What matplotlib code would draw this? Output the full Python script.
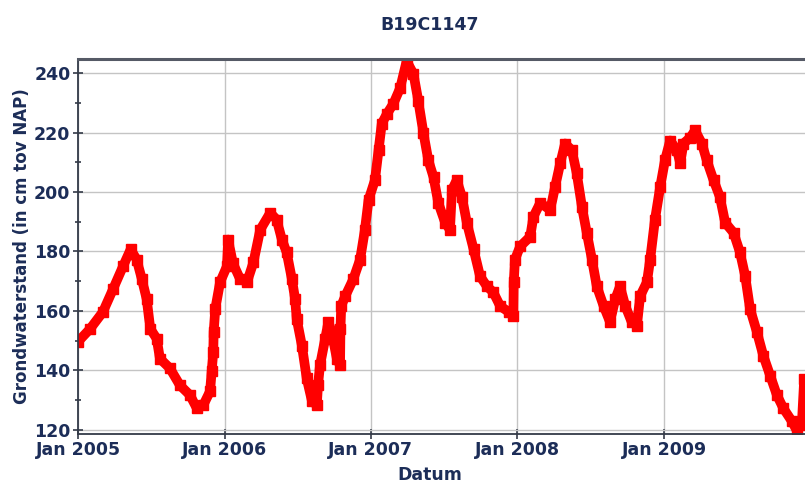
import pandas as pd
import matplotlib.pyplot as plt
import matplotlib.dates as mdates
from matplotlib.ticker import MultipleLocator

# grondwaterstand (cm tov NAP)
dates = ["2005-01-01", "2005-01-31", "2005-03-04", "2005-03-29", "2005-04-23", "2005-05-12",
         "2005-05-27", "2005-06-09", "2005-06-21", "2005-06-30", "2005-07-16", "2005-07-24",
         "2005-08-18", "2005-09-12", "2005-10-07", "2005-10-24", "2005-11-09", "2005-11-26",
         "2005-11-30", "2005-12-04", "2005-12-05", "2005-12-09", "2005-12-21", "2006-01-07",
         "2006-01-10", "2006-01-22", "2006-02-09", "2006-02-26", "2006-03-14", "2006-03-31",
         "2006-04-25", "2006-05-11", "2006-05-24", "2006-06-05", "2006-06-18", "2006-06-26",
         "2006-06-30", "2006-07-13", "2006-07-25", "2006-08-07", "2006-08-19", "2006-08-22",
         "2006-08-27", "2006-09-09", "2006-09-17", "2006-09-25", "2006-10-08", "2006-10-16",
         "2006-10-17", "2006-10-19", "2006-10-29", "2006-11-18", "2006-12-05", "2006-12-17",
         "2006-12-26", "2007-01-11", "2007-01-20", "2007-01-28", "2007-02-10", "2007-02-26",
         "2007-03-15", "2007-03-31", "2007-04-17", "2007-04-29", "2007-05-12", "2007-05-24",
         "2007-06-06", "2007-06-18", "2007-07-05", "2007-07-17", "2007-07-22", "2007-08-03",
         "2007-08-16", "2007-08-28", "2007-09-14", "2007-09-30", "2007-10-17", "2007-11-02",
         "2007-11-19", "2007-12-10", "2007-12-22", "2007-12-23", "2007-12-26", "2008-01-08",
         "2008-02-02", "2008-02-10", "2008-02-27", "2008-03-23", "2008-04-04", "2008-04-17",
         "2008-04-29", "2008-05-16", "2008-05-28", "2008-06-10", "2008-06-22", "2008-07-05",
         "2008-07-17", "2008-08-03", "2008-08-19", "2008-09-01", "2008-09-13", "2008-09-26",
         "2008-10-12", "2008-10-25", "2008-11-02", "2008-11-19", "2008-11-27", "2008-12-09",
         "2008-12-22", "2009-01-03", "2009-01-16", "2009-02-02", "2009-02-10", "2009-02-18",
         "2009-03-07", "2009-03-19", "2009-04-05", "2009-04-17", "2009-05-04", "2009-05-20",
         "2009-06-02", "2009-06-23", "2009-07-09", "2009-07-22", "2009-08-03", "2009-08-20",
         "2009-09-05", "2009-09-22", "2009-10-09", "2009-10-25", "2009-11-15", "2009-11-28",
         "2009-12-10", "2009-12-16"]
levels = [149.7, 154.0, 159.7, 167.3, 175.0, 180.7,
          177.3, 170.7, 164.0, 154.0, 150.7, 144.0,
          140.7, 135.0, 131.7, 127.3, 128.3, 133.0,
          139.7, 146.3, 153.0, 160.7, 169.7, 175.0,
          184.0, 176.0, 170.7, 169.7, 176.3, 187.3,
          193.0, 190.7, 184.0, 179.7, 170.7, 164.0,
          157.3, 148.3, 137.3, 129.7, 128.3, 135.0,
          141.7, 150.7, 156.3, 153.0, 144.0, 141.7,
          154.0, 161.7, 165.0, 170.7, 177.3, 187.3,
          197.3, 204.0, 214.0, 223.0, 226.3, 229.7,
          235.0, 244.0, 239.7, 230.7, 219.7, 210.7,
          205.0, 196.3, 189.7, 187.3, 200.7, 204.0,
          198.3, 189.7, 180.7, 171.7, 168.3, 166.3,
          161.7, 159.7, 158.3, 169.7, 177.3, 181.7,
          185.0, 191.7, 196.3, 194.0, 201.7, 209.7,
          216.3, 214.0, 206.3, 195.0, 186.3, 177.3,
          168.3, 161.7, 156.3, 164.0, 168.3, 161.7,
          156.3, 155.0, 165.0, 169.7, 177.3, 190.7,
          201.7, 210.7, 217.3, 214.0, 209.7, 216.3,
          218.3, 220.7, 216.3, 210.7, 204.0, 198.3,
          189.7, 186.3, 179.7, 171.7, 160.7, 153.0,
          145.0, 138.3, 131.7, 127.3, 123.0, 119.7,
          121.7, 137.0]

year_ticks = ["2005-01-01", "2006-01-01", "2007-01-01", "2008-01-01", "2009-01-01"]

df = pd.DataFrame({"Datum": pd.to_datetime(dates), "stand": levels})

navy = "#1c2d58"
plt.rcParams["font.family"] = ["DejaVu Sans"]
plt.rcParams["font.weight"] = "bold"

fig = plt.figure(figsize=(8.05, 4.84), dpi=100)
ax = fig.add_axes([0.097, 0.1043, 0.903, 0.7737])

ax.plot(df["Datum"], df["stand"], color="#ff0000", lw=7, marker="s", ms=6.5,
        solid_capstyle="round", solid_joinstyle="round")

ax.set_ylim(118.8, 244.7)
ax.set_xlim(pd.Timestamp("2005-01-01"), pd.Timestamp("2009-12-18"))
ax.yaxis.set_major_locator(MultipleLocator(20))
ax.yaxis.set_minor_locator(MultipleLocator(10))
ax.set_xticks(pd.to_datetime(year_ticks))
ax.xaxis.set_major_formatter(mdates.DateFormatter("Jan %Y"))

ax.grid(True, which="major", color="#c4c4c4", lw=1)
ax.set_axisbelow(True)
ax.tick_params(axis="both", which="both", direction="inout", colors="#333a48",
               labelcolor=navy, labelsize=12.5, width=1.2, pad=2)
ax.tick_params(axis="both", which="major", length=7)
ax.tick_params(axis="y", which="minor", length=5)

ax.spines["right"].set_visible(False)
ax.spines["top"].set_color("#555a66")
ax.spines["top"].set_linewidth(2.2)
for s in ["left", "bottom"]:
    ax.spines[s].set_color("#333a48")
    ax.spines[s].set_linewidth(1.3)

ax.set_ylabel("Grondwaterstand (in cm tov NAP)", color=navy, fontsize=12,
              fontweight="bold", labelpad=2)
fig.text(430 / 805, 1 - 475 / 484, "Datum", ha="center", va="center", color=navy,
         fontsize=12.5, fontweight="bold")
fig.text(430 / 805, 1 - 25 / 484, "B19C1147", ha="center", va="center", color=navy,
         fontsize=12.5, fontweight="bold")

fig.savefig("out.png", dpi=100)
